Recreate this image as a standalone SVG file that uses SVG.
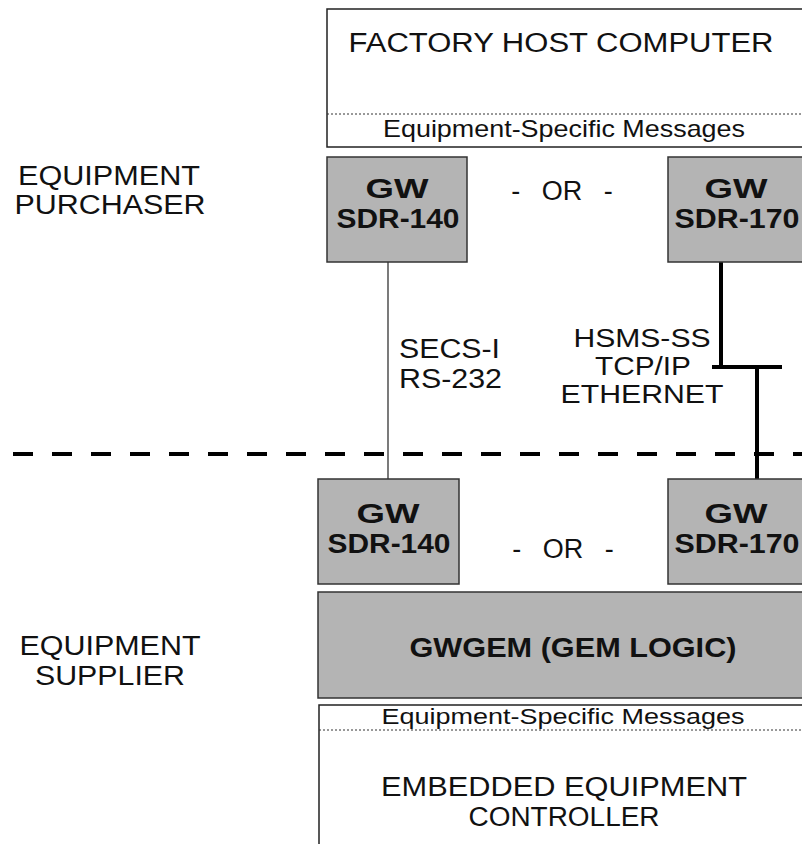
<svg xmlns="http://www.w3.org/2000/svg" width="802" height="844" viewBox="0 0 802 844">
<style>
  text { font-family: "Liberation Sans", Arial, Helvetica, sans-serif; fill: #111; }
  .big { font-size: 27px; }
  .net { font-size: 26px; }
  .msg { font-size: 24px; }
  .msg2 { font-size: 22px; }
  .bold { font-size: 27px; font-weight: bold; }
  .mid { text-anchor: middle; }
  .or { word-spacing: 14px; }
  .white { fill: #ffffff; stroke: #222; stroke-width: 1.5; }
  .gray { fill: #b4b4b4; stroke: #333; stroke-width: 1.5; }
  .dot { stroke: #333; stroke-width: 1; stroke-dasharray: 2 2; fill: none; }
  .thin { stroke: #333; stroke-width: 1.3; fill: none; }
  .thick { stroke: #000; stroke-width: 4; fill: none; }
  .dash { stroke: #000; stroke-width: 4; stroke-dasharray: 20 19; fill: none; }
</style>
<rect width="802" height="844" fill="#ffffff"/>

<g id="labels">
  <text class="big mid" x="109" y="185" textLength="182" lengthAdjust="spacingAndGlyphs">EQUIPMENT</text>
  <text class="big mid" x="110" y="214" textLength="191" lengthAdjust="spacingAndGlyphs">PURCHASER</text>
  <text class="big mid" x="110" y="655" textLength="181" lengthAdjust="spacingAndGlyphs">EQUIPMENT</text>
  <text class="big mid" x="110" y="685" textLength="150" lengthAdjust="spacingAndGlyphs">SUPPLIER</text>
</g>

<g id="divider">
  <line class="dash" x1="13" y1="454" x2="810" y2="454"/>
</g>

<g id="factory-host">
  <rect class="white" x="327" y="9" width="490" height="138"/>
  <line class="dot" x1="327" y1="114" x2="802" y2="114"/>
  <text class="big mid" x="561" y="52" textLength="425" lengthAdjust="spacingAndGlyphs">FACTORY HOST COMPUTER</text>
  <text class="msg mid" x="564" y="137" textLength="362" lengthAdjust="spacingAndGlyphs">Equipment-Specific Messages</text>
</g>

<g id="connectors">
  <line class="thin" x1="388" y1="262" x2="388" y2="479"/>
  <line class="thick" x1="721" y1="262" x2="721" y2="367"/>
  <line class="thick" x1="712" y1="367" x2="782" y2="367"/>
  <line class="thick" x1="757" y1="367" x2="757" y2="479"/>
  <text class="big" x="399" y="358" textLength="101" lengthAdjust="spacingAndGlyphs">SECS-I</text>
  <text class="big" x="399" y="388" textLength="103" lengthAdjust="spacingAndGlyphs">RS-232</text>
  <text class="net mid" x="642" y="347" textLength="137" lengthAdjust="spacingAndGlyphs">HSMS-SS</text>
  <text class="net mid" x="643" y="375" textLength="96" lengthAdjust="spacingAndGlyphs">TCP/IP</text>
  <text class="net mid" x="642" y="403" textLength="163" lengthAdjust="spacingAndGlyphs">ETHERNET</text>
</g>

<g id="gw-sdr140-purchaser">
  <rect class="gray" x="327" y="157" width="140" height="105"/>
  <text class="bold mid" x="397" y="198" textLength="63" lengthAdjust="spacingAndGlyphs">GW</text>
  <text class="bold mid" x="398" y="228" textLength="123" lengthAdjust="spacingAndGlyphs">SDR-140</text>
</g>

<g id="or-upper">
  <text class="big mid or" x="562" y="200">- OR -</text>
</g>

<g id="gw-sdr170-purchaser">
  <rect class="gray" x="668" y="157" width="150" height="105"/>
  <text class="bold mid" x="736" y="198" textLength="63" lengthAdjust="spacingAndGlyphs">GW</text>
  <text class="bold mid" x="737" y="228" textLength="125" lengthAdjust="spacingAndGlyphs">SDR-170</text>
</g>

<g id="gw-sdr140-supplier">
  <rect class="gray" x="318" y="479" width="141" height="105"/>
  <text class="bold mid" x="388" y="523" textLength="63" lengthAdjust="spacingAndGlyphs">GW</text>
  <text class="bold mid" x="389" y="553" textLength="123" lengthAdjust="spacingAndGlyphs">SDR-140</text>
</g>

<g id="or-lower">
  <text class="big mid or" x="563" y="558">- OR -</text>
</g>

<g id="gw-sdr170-supplier">
  <rect class="gray" x="668" y="479" width="150" height="105"/>
  <text class="bold mid" x="736" y="523" textLength="63" lengthAdjust="spacingAndGlyphs">GW</text>
  <text class="bold mid" x="737" y="553" textLength="125" lengthAdjust="spacingAndGlyphs">SDR-170</text>
</g>

<g id="gwgem">
  <rect class="gray" x="318" y="592" width="500" height="106"/>
  <text class="bold mid" x="573" y="657" textLength="327" lengthAdjust="spacingAndGlyphs">GWGEM (GEM LOGIC)</text>
</g>

<g id="embedded-controller">
  <rect class="white" x="319" y="705" width="500" height="160"/>
  <line class="dot" x1="319" y1="730" x2="802" y2="730"/>
  <text class="msg2 mid" x="563" y="724" textLength="363" lengthAdjust="spacingAndGlyphs">Equipment-Specific Messages</text>
  <text class="big mid" x="564" y="796" textLength="366" lengthAdjust="spacingAndGlyphs">EMBEDDED EQUIPMENT</text>
  <text class="big mid" x="564" y="826" textLength="191" lengthAdjust="spacingAndGlyphs">CONTROLLER</text>
</g>
</svg>
